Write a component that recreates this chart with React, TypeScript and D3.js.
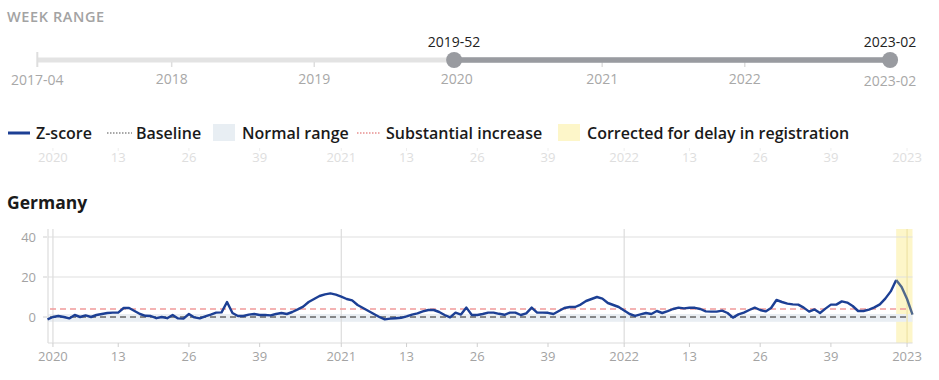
import React from "react";
import * as d3 from "d3";

// ---- Data ----
// weekly z-scores, index 0 = 2019-52 ... index 159 = 2023-02
const zScore: number[] = [
  -1.2, 0, 0.5, 0, -0.7, 1, 0, 0.8, 0, 1,
  1.5, 2, 2.2, 2.2, 4.5, 4.5, 3, 1.5, 0.6, 0.5,
  -0.6, 0, -0.6, 1, -0.7, -0.8, 1.5, -0.2, -0.7, 0.3,
  1.2, 2.2, 2.3, 7.5, 2, 0.5, 0.5, 1.2, 1.5, 1,
  1, 0.8, 1.5, 2, 1.5, 2.5, 3.8, 5.2, 7.5, 9,
  10.5, 11.3, 11.8, 11.2, 10.2, 9, 8.3, 6, 4.5, 3,
  1.5, 0, -1.2, -0.8, -0.6, -0.4, 0.3, 1.2, 1.8, 2.8,
  3.5, 3.5, 2.5, 1, -0.2, 2.2, 1.2, 4.7, 1, 1,
  1.5, 2.2, 2.2, 1.6, 1.1, 2.2, 2.2, 1, 1.8, 4.7,
  2.2, 2.2, 2.1, 1.5, 3, 4.5, 5, 5, 6.2, 8,
  9, 10, 9.2, 7, 6, 5, 3.2, 1.5, 0.6, 1.3,
  2, 1.5, 3, 2, 2.9, 4, 4.7, 4.3, 4.6, 4.6,
  4, 2.8, 2.7, 2.7, 3.2, 2, -0.3, 1.3, 2.2, 3.5,
  4.7, 3.5, 2.8, 4.5, 8.5, 7.5, 6.7, 6.3, 6.2, 4.7,
  2.7, 3.8, 2, 4.2, 6.2, 6.2, 7.8, 7.2, 5.5, 3,
  3, 3.7, 4.8, 6.3, 9.2, 12.8, 18.5, 15, 9, 1.2,
];
const correctedFrom = 156; // 2022-51 onward corrected for delay
const baselineValue = 0;
const substantialValue = 4;
const normalRange: [number, number] = [-2.4, 1.5];

const yTicks = [0, 20, 40];
const xTickIdx = [1, 13, 26, 39, 54, 66, 79, 92, 106, 118, 131, 144, 158];
const xTickLabels = ["2020", "13", "26", "39", "2021", "13", "26", "39", "2022", "13", "26", "39", "2023"];
const yearIdx = [1, 54, 106, 158];

// slider (weeks since 2017-04)
const sliderTickW = [49, 101, 153, 206, 258];
const sliderTickLabels = ["2018", "2019", "2020", "2021", "2022"];
const sliderMinLabel = "2017-04";
const sliderMaxLabel = "2023-02";
const sliderMaxW = 311;
const selStartW = 152;
const selStartLabel = "2019-52";
const selEndW = 311;
const selEndLabel = "2023-02";

const legendItems = [
  { label: "Z-score", kind: "line" },
  { label: "Baseline", kind: "dotGray" },
  { label: "Normal range", kind: "rectBlue" },
  { label: "Substantial increase", kind: "dotRed" },
  { label: "Corrected for delay in registration", kind: "rectYellow" },
];

const FONT = "'Open Sans', Roboto, sans-serif";

export default function App() {
  const W = 939, H = 380;
  const x = d3.scaleLinear().domain([0, zScore.length - 1]).range([47.5, 912.5]);
  const y = d3.scaleLinear().domain([-13, 44]).range([343, 229]);
  const sx = d3.scaleLinear().domain([0, sliderMaxW]).range([37.3, 890.1]);

  const line = d3.line<number>().x((_, i) => x(i)).y((d) => y(d));
  const mainPts = zScore.slice(0, correctedFrom + 1);
  const corrPts = zScore.slice(correctedFrom);
  const mainPath = line(mainPts) || "";
  const corrLine = d3.line<number>().x((_, i) => x(i + correctedFrom)).y((d) => y(d));
  const corrPath = corrLine(corrPts) || "";

  const legendX = [8, 107, 213, 357, 558];
  const legendTextX = [36, 136, 242, 386, 587];

  return (
    <svg width={W} height={H} style={{ position: "absolute", left: 0, top: 0, fontFamily: FONT }}>
      {/* Week range slider */}
      <text x={7} y={21.5} fontSize={14.5} fill="#a3a3a3" fontWeight={600} letterSpacing={0.6}>WEEK RANGE</text>
      <line x1={sx(0)} x2={sx(sliderMaxW)} y1={60} y2={60} stroke="#e3e3e3" strokeWidth={5} />
      <line x1={sx(0)} x2={sx(0)} y1={52} y2={67} stroke="#dedede" strokeWidth={2} />
      {sliderTickW.map((w, i) => (
        <g key={i}>
          <line x1={sx(w)} x2={sx(w)} y1={62} y2={67} stroke="#dedede" strokeWidth={1.5} />
          <text x={sx(w)} y={84} fontSize={14} fill="#a8a8a8" textAnchor="middle">{sliderTickLabels[i]}</text>
        </g>
      ))}
      <text x={sx(0)} y={85} fontSize={14} fill="#a8a8a8" textAnchor="middle">{sliderMinLabel}</text>
      <text x={sx(sliderMaxW)} y={86} fontSize={14} fill="#a8a8a8" textAnchor="middle">{sliderMaxLabel}</text>
      <line x1={sx(selStartW)} x2={sx(selEndW)} y1={60} y2={60} stroke="#999ba0" strokeWidth={5.5} />
      <circle cx={sx(selStartW)} cy={60} r={8} fill="#999ba0" />
      <circle cx={sx(selEndW)} cy={60} r={8} fill="#999ba0" />
      <text x={sx(selStartW)} y={47} fontSize={14} fontWeight={500} fill="#222" textAnchor="middle">{selStartLabel}</text>
      <text x={sx(selEndW)} y={47} fontSize={14} fontWeight={500} fill="#222" textAnchor="middle">{selEndLabel}</text>

      {/* Legend */}
      {legendItems.map((it, i) => {
        const lx = legendX[i];
        let sym: React.ReactNode = null;
        if (it.kind === "line") sym = <line x1={lx} x2={lx + 22} y1={133} y2={133} stroke="#1c3f94" strokeWidth={3} />;
        if (it.kind === "dotGray") sym = <line x1={lx} x2={lx + 25} y1={133} y2={133} stroke="#8a8a8a" strokeWidth={1.5} strokeDasharray="1.5,1.5" />;
        if (it.kind === "dotRed") sym = <line x1={lx} x2={lx + 23} y1={133} y2={133} stroke="#e89090" strokeWidth={1.5} strokeDasharray="1.5,1.5" />;
        if (it.kind === "rectBlue") sym = <rect x={lx} y={124} width={22} height={17} fill="#e8eef3" />;
        if (it.kind === "rectYellow") sym = <rect x={lx} y={124} width={22} height={17} fill="#fdf6c9" />;
        return (
          <g key={i}>
            {sym}
            <text x={legendTextX[i]} y={138.5} fontSize={16} fontWeight={600} fill="#1a1a1a">{it.label}</text>
          </g>
        );
      })}

      {/* Ghost (sticky) axis */}
      {xTickIdx.map((t, i) => (
        <g key={i}>
          <line x1={x(t)} x2={x(t)} y1={148} y2={151} stroke="#eeeeee" strokeWidth={1} />
          <text x={x(t)} y={162} fontSize={13} fill="#dedede" textAnchor="middle">{xTickLabels[i]}</text>
        </g>
      ))}

      {/* Title */}
      <text x={7} y={209} fontSize={17.5} fontWeight={700} fill="#1a1a1a">Germany</text>

      {/* Plot */}
      <rect x={x(correctedFrom)} y={229} width={x(zScore.length - 1) - x(correctedFrom)} height={114} fill="#fdf6c9" />
      <rect x={48} y={y(normalRange[1])} width={912.5 - 48} height={y(normalRange[0]) - y(normalRange[1])} fill="#e9eef3" />
      {yTicks.filter((t) => t !== 0).map((t) => (
        <line key={t} x1={48} x2={912.5} y1={y(t)} y2={y(t)} stroke="#e0e0e0" strokeWidth={1.2} />
      ))}
      <line x1={48} x2={912.5} y1={343} y2={343} stroke="#dcdcdc" strokeWidth={1.2} />
      <line x1={48} x2={48} y1={229} y2={343} stroke="#dcdcdc" strokeWidth={1.2} />
      {yearIdx.map((t) => (
        <line key={t} x1={x(t)} x2={x(t)} y1={229} y2={343}
          stroke={t >= correctedFrom ? "#efe3a6" : "#dcdcdc"} strokeWidth={1.2} />
      ))}
      {yTicks.map((t) => (
        <g key={t}>
          <line x1={43} x2={47} y1={y(t)} y2={y(t)} stroke="#cfcfcf" strokeWidth={1} />
          <text x={36} y={y(t) + 4.5} fontSize={13} fill="#a3a3a3" textAnchor="end">{t}</text>
        </g>
      ))}
      {xTickIdx.map((t, i) => (
        <g key={i}>
          <line x1={x(t)} x2={x(t)} y1={343} y2={347} stroke="#cfcfcf" strokeWidth={1} />
          <text x={x(t)} y={361} fontSize={13} fill="#a3a3a3" textAnchor="middle">{xTickLabels[i]}</text>
        </g>
      ))}
      <line x1={50} x2={910} y1={y(substantialValue)} y2={y(substantialValue)} stroke="#f19a9a" strokeWidth={1.5} strokeDasharray="6,4" />
      <line x1={50} x2={910} y1={y(baselineValue)} y2={y(baselineValue)} stroke="#666" strokeWidth={1.5} strokeDasharray="6,4" />
      <path d={mainPath} fill="none" stroke="#1c3f94" strokeWidth={2.4} strokeLinejoin="round" />
      <path d={corrPath} fill="none" stroke="#51698c" strokeWidth={2.4} strokeLinejoin="round" />
    </svg>
  );
}
